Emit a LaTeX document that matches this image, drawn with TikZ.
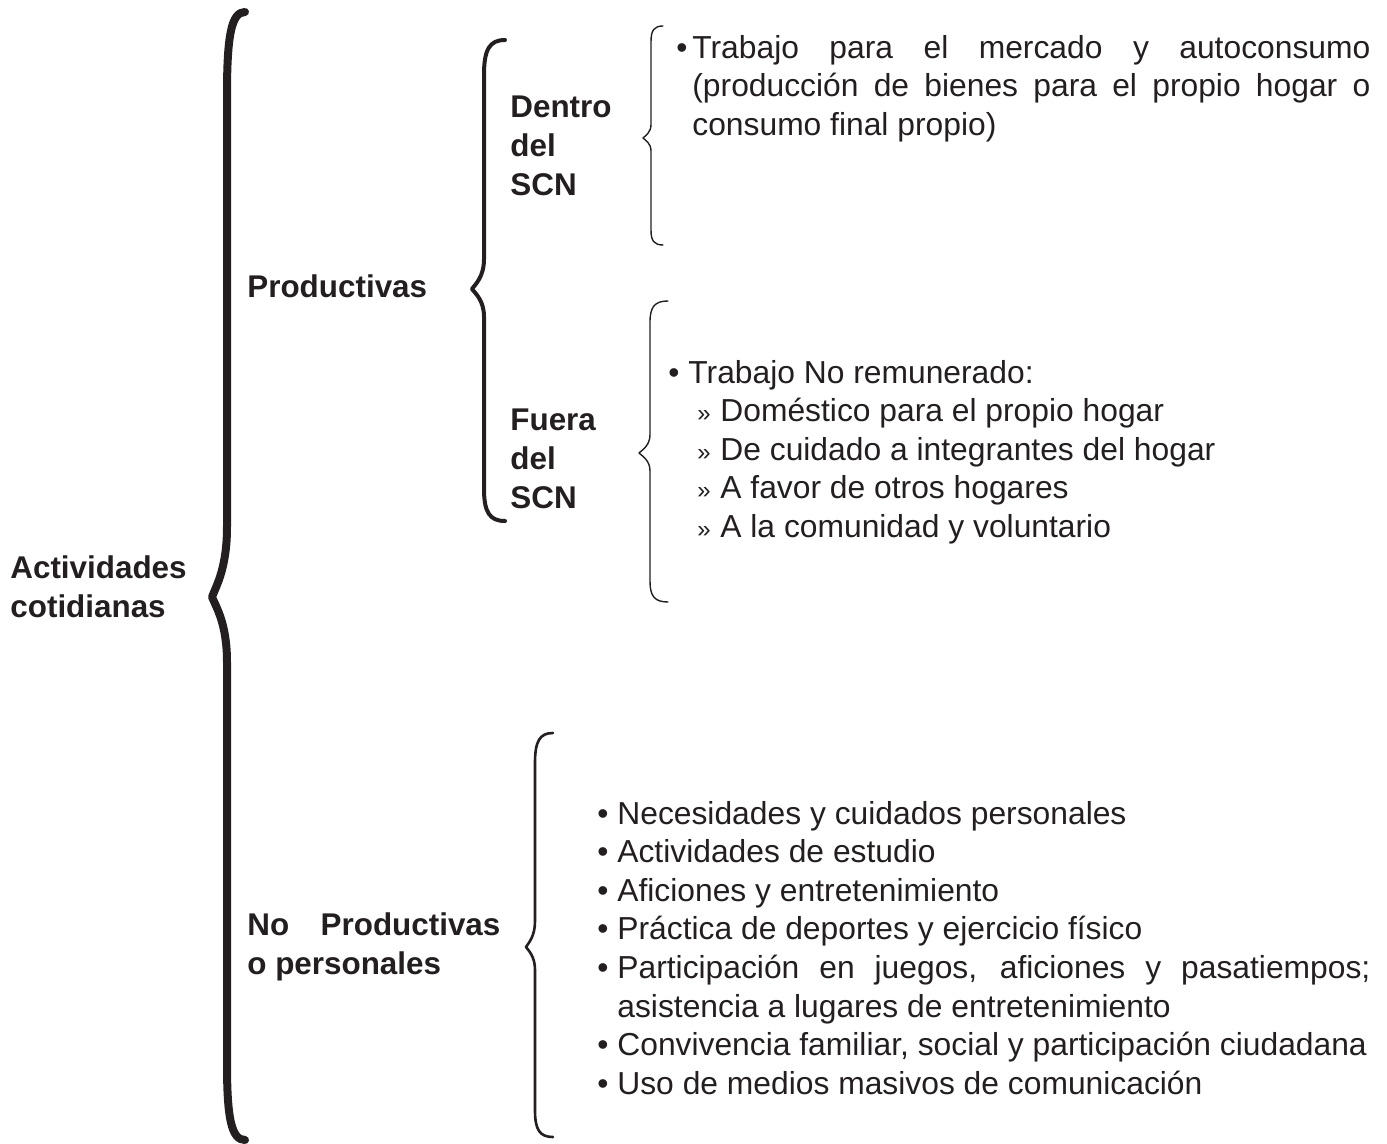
\documentclass[tikz,border=0pt]{standalone}
\usepackage{fontspec}
\setmainfont{Liberation Sans}
\definecolor{ink}{RGB}{35,31,32}

% curly brace: #1 style, #2 end x, #3 stem x, #4 tip x, #5 top y, #6 tip y, #7 bottom y
\newcommand{\curlybrace}[7]{%
  \draw[#1] (#2,#5)
    .. controls ({#3+0.25*(#2-#3)},#5) and (#3,{#5+0.04*(#6-#5)}) .. (#3,{#5+0.14*(#6-#5)})
    -- (#3,{#6-0.12*(#6-#5)})
    .. controls (#3,{#6-0.05*(#6-#5)}) and ({#4+0.3*(#3-#4)},{#6-0.02*(#6-#5)}) .. (#4,#6)
    .. controls ({#4+0.3*(#3-#4)},{#6+0.02*(#7-#6)}) and (#3,{#6+0.05*(#7-#6)}) .. (#3,{#6+0.12*(#7-#6)})
    -- (#3,{#7-0.14*(#7-#6)})
    .. controls (#3,{#7-0.04*(#7-#6)}) and ({#3+0.25*(#2-#3)},#7) .. (#2,#7);
}
\newcommand{\bulitem}[2]{\par\hangindent=#1\hangafter=1\noindent\makebox[#1][l]{•}#2\par}
\newcommand{\raquoitem}[1]{\\\hspace*{14.5pt}\makebox[11.5pt][l]{\fontsize{12}{12}\selectfont »}#1}

\begin{document}
\begin{tikzpicture}[
    x=0.5pt,
    y=-0.5pt,
    bigbrace/.style={
        ink,
        line width=4pt,
        line cap=round,
        line join=round,
    },
    midbrace/.style={
        ink,
        line width=2pt,
        line cap=round,
        line join=round,
    },
    lowbrace/.style={
        ink,
        line width=1.3pt,
        line cap=round,
        line join=round,
    },
    thinbrace/.style={
        ink,
        line width=0.7pt,
        line cap=round,
        line join=round,
    },
    headtext/.style={
        text=ink,
        anchor=west,
        inner sep=0pt,
        align=left,
        font=\fontsize{15.7}{19.4}\selectfont\bfseries,
    },
    listtext/.style={
        text=ink,
        anchor=west,
        inner sep=0pt,
        align=justify,
        font=\fontsize{15.9}{19.3}\selectfont,
    }
]
    \useasboundingbox (0,0) rectangle (1387,1144);

    % Braces
    \curlybrace{bigbrace}{245}{227}{212}{12}{597}{1140}
    \curlybrace{midbrace}{505}{484}{472}{40}{289}{521}
    \curlybrace{thinbrace}{663}{651}{643}{26}{138}{245}
    \curlybrace{thinbrace}{668}{650}{639}{301}{453}{602}
    \curlybrace{lowbrace}{553}{535}{526}{733}{947}{1137}

    % Headings
    \node[headtext] (actividades) at (10,587) {Actividades\\cotidianas};
    \node[headtext] (productivas) at (247,286) {Productivas};
    \node[headtext] (dentro) at (510,146) {Dentro\\del\\SCN};
    \node[headtext] (fuera) at (510,459) {Fuera\\del\\SCN};
    \node[headtext] (noproductivas) at (247,947)
        {\makebox[126.5pt][s]{No\hfill Productivas}\\o personales};

    % Lists
    \node[listtext, text width=347pt] (dentrolist) at (676,81)
        {\bulitem{8pt}{Trabajo para el mercado y autoconsumo\linebreak
        (producción de bienes para el propio hogar o\linebreak
        consumo final propio)}};
    \node[listtext, align=left] (fueralist) at (668,452)
        {\makebox[10pt][l]{•}Trabajo No remunerado:
        \raquoitem{Doméstico para el propio hogar}
        \raquoitem{De cuidado a integrantes del hogar}
        \raquoitem{A favor de otros hogares}
        \raquoitem{A la comunidad y voluntario}};
    \node[listtext, text width=386.5pt] (nolist) at (597,940)
        {\bulitem{10pt}{Necesidades y cuidados personales}
        \bulitem{10pt}{Actividades de estudio}
        \bulitem{10pt}{Aficiones y entretenimiento}
        \bulitem{10pt}{Práctica de deportes y ejercicio físico}
        \bulitem{10pt}{Participación en juegos, aficiones y pasatiempos;\linebreak
        asistencia a lugares de entretenimiento}
        \bulitem{10pt}{\mbox{Convivencia familiar, social y participación ciudadana}}
        \bulitem{10pt}{Uso de medios masivos de comunicación}};
\end{tikzpicture}
\end{document}
